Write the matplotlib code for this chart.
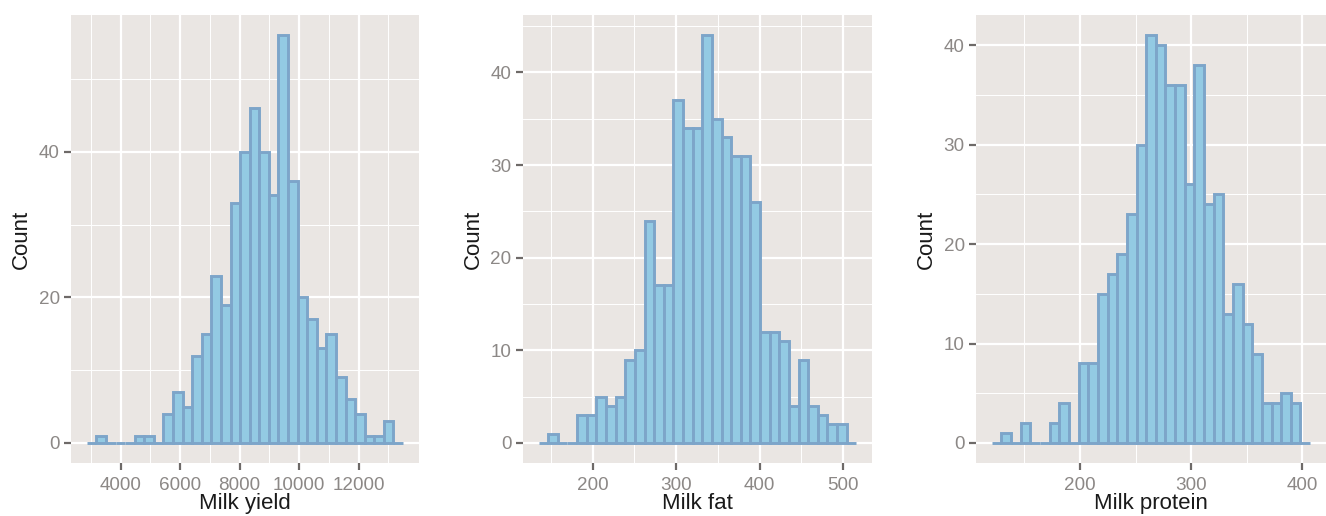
import matplotlib
matplotlib.use("Agg")
import matplotlib.pyplot as plt
import numpy as np

# ---- data ----
yield_start = 2864.0
yield_binwidth = 322.0
yield_counts = [0, 1, 0, 0, 0, 1, 1, 0, 4, 7, 5, 12, 15, 23, 19, 33, 40, 46, 40, 34,
                56, 36, 20, 17, 13, 15, 9, 6, 4, 1, 1, 3, 0]

fat_start = 135.2
fat_binwidth = 11.53
fat_counts = [0, 1, 0, 0, 3, 3, 5, 4, 5, 9, 10, 24, 17, 17, 37, 34, 34, 44, 35, 33,
              31, 31, 26, 12, 12, 11, 4, 9, 4, 3, 2, 2, 0]

protein_start = 120.8
protein_binwidth = 8.67
protein_counts = [0, 1, 0, 2, 0, 0, 2, 4, 0, 8, 8, 15, 17, 19, 23, 30, 41, 40, 36, 36,
                  26, 38, 24, 25, 13, 16, 12, 9, 4, 4, 5, 4, 0]

x_labels = ["Milk yield", "Milk fat", "Milk protein"]
y_label = "Count"

yield_xmajor = [4000, 6000, 8000, 10000, 12000]
yield_xminor = [3000, 5000, 7000, 9000, 11000, 13000]
yield_ymajor = [0, 20, 40]
yield_yminor = [10, 30, 50]

fat_xmajor = [200, 300, 400, 500]
fat_xminor = [150, 250, 350, 450]
fat_ymajor = [0, 10, 20, 30, 40]
fat_yminor = [5, 15, 25, 35, 45]

protein_xmajor = [200, 300, 400]
protein_xminor = [150, 250, 350]
protein_ymajor = [0, 10, 20, 30, 40]
protein_yminor = [5, 15, 25, 35]

# ---- style ----
BG = "#EAE6E3"
FILL = "#93CAE3"
EDGE = "#7DA5C9"
TICKLAB = "#8C8886"
TICKMARK = "#6E6A68"
FONT = ["Liberation Sans", "DejaVu Sans"]
plt.rcParams["font.family"] = FONT

fig = plt.figure(figsize=(13.26, 5.16), dpi=100)
fig.patch.set_facecolor("white")

panels = [
    (yield_start, yield_binwidth, yield_counts, yield_xmajor, yield_xminor, yield_ymajor, yield_yminor),
    (fat_start, fat_binwidth, fat_counts, fat_xmajor, fat_xminor, fat_ymajor, fat_yminor),
    (protein_start, protein_binwidth, protein_counts, protein_xmajor, protein_xminor, protein_ymajor, protein_yminor),
]
lefts = [0.0535, 0.3942, 0.7360]
widths = [0.2624, 0.2636, 0.2640]
bottom, height = 0.102, 0.869

for i, (start, bw, counts, xmaj, xmin, ymaj, ymin) in enumerate(panels):
    ax = fig.add_axes([lefts[i], bottom, widths[i], height])
    ax.set_facecolor(BG)
    n = len(counts)
    edges = start + bw * np.arange(n)
    ax.bar(edges, counts, width=bw, align="edge", color=FILL, edgecolor=EDGE,
           linewidth=2.1, zorder=3)
    xlo, xhi = start, start + bw * n
    xr = xhi - xlo
    ax.set_xlim(xlo - 0.05 * xr, xhi + 0.05 * xr)
    ymax = max(counts)
    ax.set_ylim(-0.05 * ymax, ymax * 1.05)

    ax.set_xticks(xmaj)
    ax.set_xticks(xmin, minor=True)
    ax.set_yticks(ymaj)
    ax.set_yticks(ymin, minor=True)
    ax.grid(True, which="major", color="white", linewidth=1.6, zorder=0)
    ax.grid(True, which="minor", color="white", linewidth=0.7, zorder=0)
    ax.set_axisbelow(True)
    for s in ax.spines.values():
        s.set_visible(False)
    ax.tick_params(which="major", length=5, width=1.6, color=TICKMARK,
                   labelcolor=TICKLAB, labelsize=13.6)
    ax.tick_params(axis="x", which="major", pad=5)
    ax.tick_params(axis="y", which="major", pad=3)
    ax.tick_params(which="minor", length=0)
    ax.set_xlabel(x_labels[i], fontsize=16, color="#1a1a1a", labelpad=-1)
    ax.set_ylabel(y_label, fontsize=16, color="#1a1a1a", labelpad=5)

fig.savefig("out.png", dpi=100, facecolor="white")
